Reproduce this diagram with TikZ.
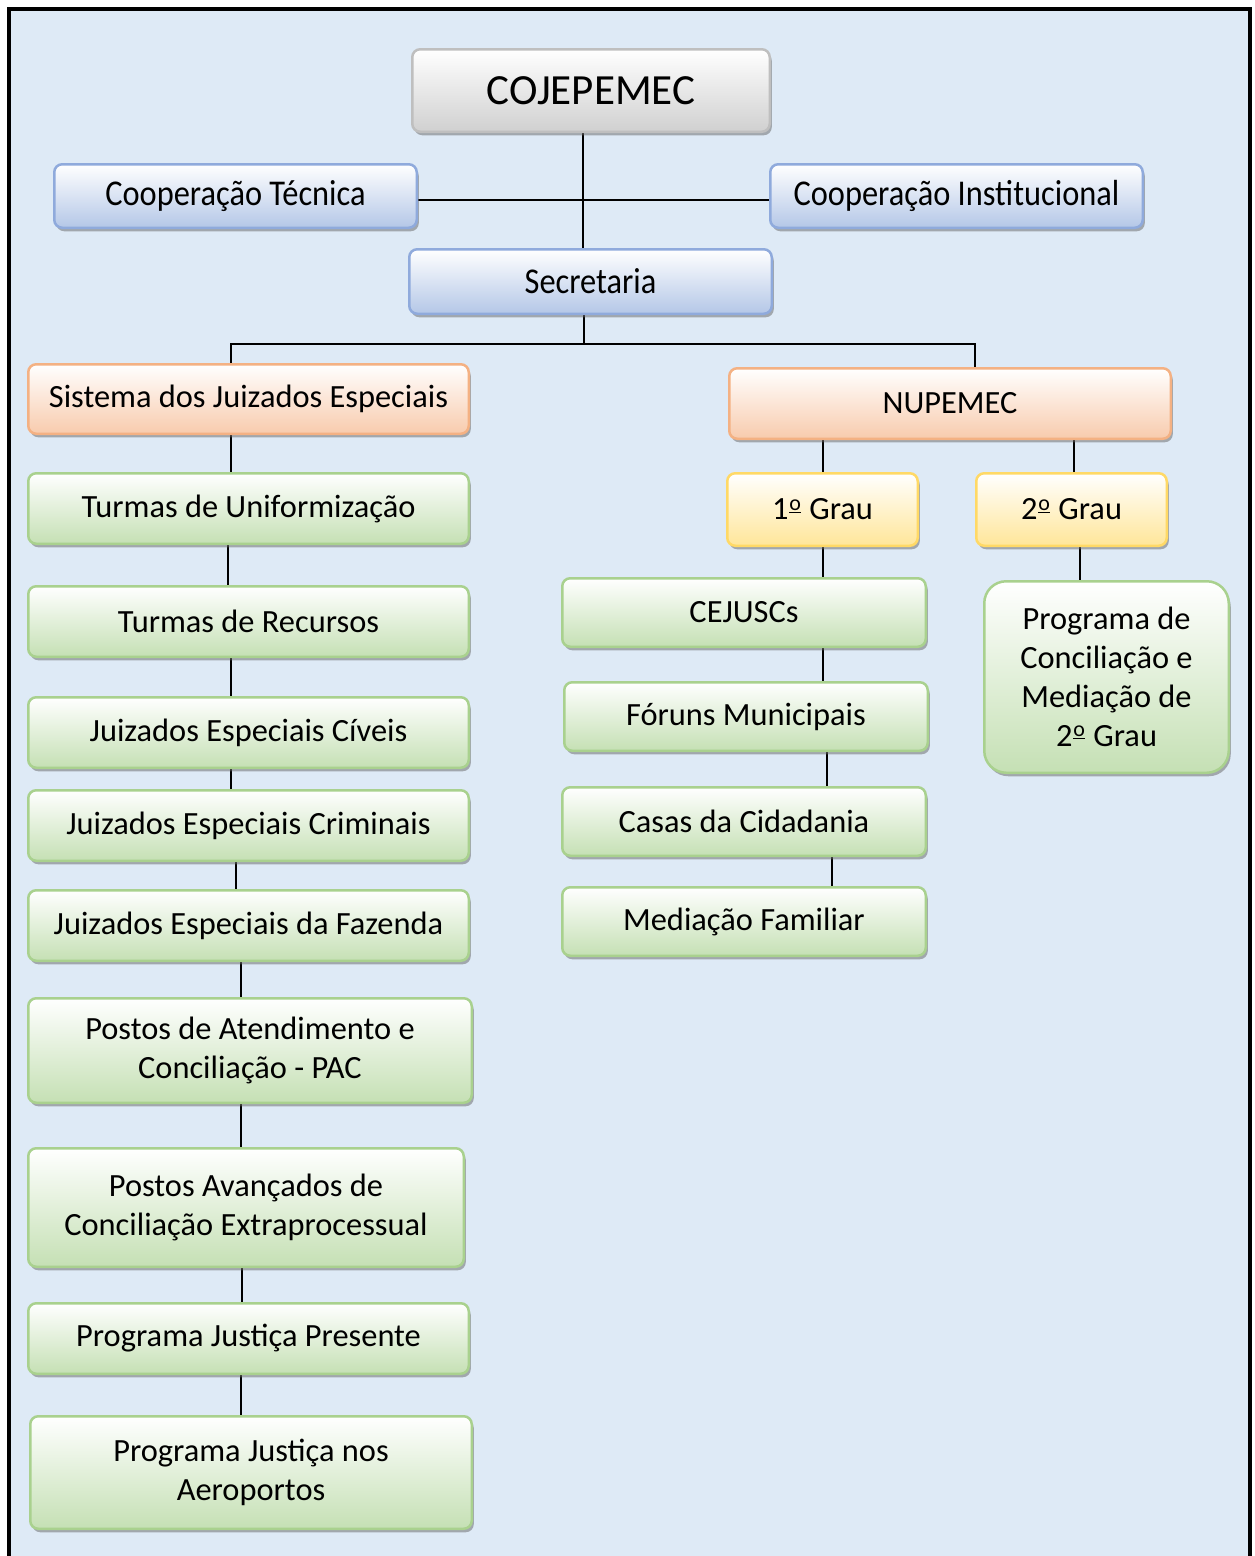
\documentclass[tikz,border=0pt]{standalone}
\usepackage{fontspec}
\setmainfont{Carlito}
\usetikzlibrary{shadows,calc}
\definecolor{bgc}{RGB}{222,234,246}
\definecolor{grnB}{RGB}{169,209,142}
\definecolor{grnF}{RGB}{197,224,180}
\definecolor{oraB}{RGB}{244,177,131}
\definecolor{oraF}{RGB}{248,203,173}
\definecolor{yelB}{RGB}{255,217,102}
\definecolor{yelF}{RGB}{255,230,153}
\definecolor{bluB}{RGB}{143,170,220}
\definecolor{bluF}{RGB}{180,199,231}
\definecolor{gryB}{RGB}{191,191,191}
\definecolor{gryF}{RGB}{208,208,208}
\pgfdeclarelayer{back}
\pgfsetlayers{back,main}
\tikzset{
  boxbase/.style={draw, line width=2.5pt, rounded corners=8pt, align=center,
    font=\fontsize{32.4}{39}\selectfont, inner sep=0pt,
    drop shadow={shadow xshift=2pt, shadow yshift=-3.5pt, opacity=0.5, fill=black!60}},
  gbox/.style={boxbase, draw=grnB, top color=white, bottom color=grnF},
  obox/.style={boxbase, draw=oraB, top color=white, bottom color=oraF},
  ybox/.style={boxbase, draw=yelB, top color=white, bottom color=yelF},
  bbox/.style={boxbase, draw=bluB, top color=white, bottom color=bluF},
  graybox/.style={boxbase, draw=gryB, top color=white, bottom color=gryF, font=\fontsize{43}{50}\selectfont},
  conn/.style={line width=2pt, black},
}
\newcommand\mkbox[7]{\node[#6, minimum width={#4-#2-2.5}, minimum height={#5-#3-2.5}]
  (#1) at ({(#2+#4)/2},{(#3+#5)/2}) {#7};}
\newcommand\vs[1]{\scalebox{1}[1.12]{#1}}
\newcommand\ordo{\kern1pt\raisebox{0.30em}{\fontsize{22}{22}\selectfont$\underline{\hbox{o}}$}\kern1pt}
\begin{document}
\begin{tikzpicture}[x=1pt,y=-1pt]
\useasboundingbox (0,0) rectangle (1255,1556);
\begin{pgfonlayer}{back}
  \fill[bgc] (9,9) rectangle (1250,1556);
  \draw[line width=4.5pt, line join=miter] (9,1556) -- (9,9) -- (1250,9) -- (1250,1556);
\end{pgfonlayer}

\mkbox{coj}{411}{48}{771}{133}{graybox}{COJEPEMEC}
\mkbox{ct}{53}{163}{418}{229}{bbox}{\vs{Cooperação Técnica}}
\mkbox{ci}{769}{163}{1144}{229}{bbox}{\vs{Cooperação Institucional}}
\mkbox{sec}{408}{248}{773}{315}{bbox}{\vs{Secretaria}}
\mkbox{sis}{27}{363}{470}{435}{obox}{Sistema dos Juizados Especiais}
\mkbox{nup}{728}{367}{1172}{440}{obox}{NUPEMEC}
\mkbox{g1}{726}{472}{919}{547}{ybox}{1\ordo{} Grau}
\mkbox{g2}{975}{472}{1168}{547}{ybox}{2\ordo{} Grau}
\mkbox{tu}{27}{472}{470}{545}{gbox}{Turmas de Uniformização}
\mkbox{tr}{27}{585}{470}{658}{gbox}{Turmas de Recursos}
\mkbox{jec}{27}{696}{470}{769}{gbox}{Juizados Especiais Cíveis}
\mkbox{jecr}{27}{789}{470}{862}{gbox}{Juizados Especiais Criminais}
\mkbox{jef}{27}{889}{470}{962}{gbox}{Juizados Especiais da Fazenda}
\mkbox{pac}{27}{997}{473}{1104}{gbox}{Postos de Atendimento e\\Conciliação - PAC}
\mkbox{pav}{27}{1147}{465}{1268}{gbox}{Postos Avançados de\\Conciliação Extraprocessual}
\mkbox{pjp}{27}{1302}{470}{1375}{gbox}{Programa Justiça Presente}
\mkbox{pja}{29}{1415}{473}{1530}{gbox}{Programa Justiça nos\\Aeroportos}
\mkbox{cej}{561}{577}{927}{648}{gbox}{CEJUSCs}
\mkbox{for}{563}{681}{929}{752}{gbox}{Fóruns Municipais}
\mkbox{cas}{561}{786}{927}{857}{gbox}{Casas da Cidadania}
\mkbox{med}{561}{886}{927}{957}{gbox}{Mediação Familiar}
\mkbox{pcm}{983}{580}{1230}{774}{gbox, rounded corners=22pt}{Programa de\\Conciliação e\\Mediação de\\2\ordo{} Grau}

\coordinate (bus) at (584,344);
\begin{pgfonlayer}{back}
  \draw[conn] ([xshift=-8pt]coj.south) -- ([xshift=-7.5pt]sec.north);
  \draw[conn] ([yshift=-4pt]ct.east) -- ([yshift=-4pt]ci.west);
  \draw[conn] ([xshift=-6.5pt]sec.south) -- (bus);
  \draw[conn] ([xshift=-17.5pt]sis.north) |- (bus) -| ([xshift=25pt]nup.north);
  \draw[conn] ([xshift=-17.5pt]sis.south) -- ([xshift=-17.5pt]tu.north);
  \draw[conn] ([xshift=-20.5pt]tu.south) -- ([xshift=-20.5pt]tr.north);
  \draw[conn] ([xshift=-17.5pt]tr.south) -- ([xshift=-17.5pt]jec.north);
  \draw[conn] ([xshift=-17.5pt]jec.south) -- ([xshift=-17.5pt]jecr.north);
  \draw[conn] ([xshift=-12.5pt]jecr.south) -- ([xshift=-12.5pt]jef.north);
  \draw[conn] ([xshift=-7.5pt]jef.south) -- ([xshift=-9pt]pac.north);
  \draw[conn] ([xshift=-9pt]pac.south) -- ([xshift=-5pt]pav.north);
  \draw[conn] ([xshift=-4pt]pav.south) -- ([xshift=-6.5pt]pjp.north);
  \draw[conn] ([xshift=-7.5pt]pjp.south) -- ([xshift=-10pt]pja.north);
  \draw[conn] ([xshift=-127pt]nup.south) -- ([xshift=0.5pt]g1.north);
  \draw[conn] ([xshift=124pt]nup.south) -- ([xshift=2.5pt]g2.north);
  \draw[conn] ([xshift=0.5pt]g1.south) -- ([xshift=79pt]cej.north);
  \draw[conn] ([xshift=79pt]cej.south) -- ([xshift=77pt]for.north);
  \draw[conn] ([xshift=81pt]for.south) -- ([xshift=83pt]cas.north);
  \draw[conn] ([xshift=88pt]cas.south) -- ([xshift=88pt]med.north);
  \draw[conn] ([xshift=8.5pt]g2.south) -- ([xshift=-26.5pt]pcm.north);
\end{pgfonlayer}
\end{tikzpicture}
\end{document}
